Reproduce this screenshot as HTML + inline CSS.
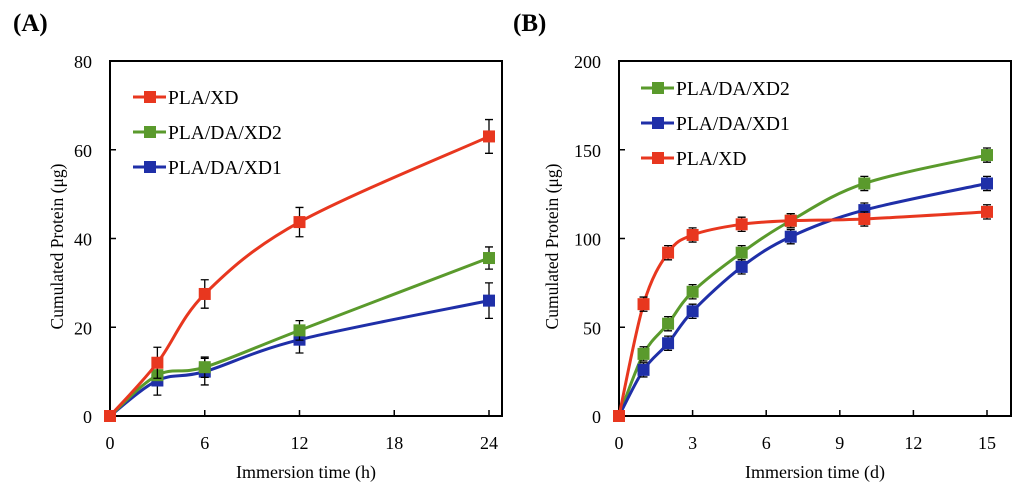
<!DOCTYPE html>
<html><head><meta charset="utf-8"><style>
body{margin:0;background:#fff;}
svg{display:block;font-family:"Liberation Serif",serif;}
</style></head><body>
<svg id="s" width="1024" height="489" viewBox="0 0 1024 489"></svg>
<script>
const timesA=[0,3,6,12,24];
const redA=[0,12,27.5,43.7,63];
const redAerr=[0,3.5,3.2,3.3,3.8];
const greenA=[0,9.2,11,19.3,35.6];
const greenAerr=[0,0,2.3,2.2,2.5];
const blueA=[0,8,10,17.2,26];
const blueAerr=[0,3.3,3,3,4];
const ticksAx=[0,6,12,18,24];
const ticksAy=[0,20,40,60,80];
const timesB=[0,1,2,3,5,7,10,15];
const redB=[0,63,92,102,108,110,111,115];
const greenB=[0,35,52,70,92,110,131,147];
const blueB=[0,26,41,59,84,101,116,131];
const errB=[0,4,4,4,4,4,4,4];
const ticksBx=[0,3,6,9,12,15];
const ticksBy=[0,50,100,150,200];
const NS="http://www.w3.org/2000/svg";
const svg=document.getElementById('s');
function el(t,a,p){const e=document.createElementNS(NS,t);for(const k in a)e.setAttribute(k,a[k]);(p||svg).appendChild(e);return e;}
const RED="#e8371f",GREEN="#5a9a2c",BLUE="#1f2fa8";
function path(pts){let d=`M${pts[0][0]},${pts[0][1]}`;const t=1/3;for(let i=0;i<pts.length-1;i++){const p0=pts[Math.max(0,i-1)],p1=pts[i],p2=pts[i+1],p3=pts[Math.min(pts.length-1,i+2)];d+=` C${p1[0]+(p2[0]-p0[0])*t/2},${p1[1]+(p2[1]-p0[1])*t/2} ${p2[0]-(p3[0]-p1[0])*t/2},${p2[1]-(p3[1]-p1[1])*t/2} ${p2[0]},${p2[1]}`;}return d;}
function panel(o){
  const g=el('g',{});
  
  
  const X=v=>o.x0+(o.x1-o.x0)*v/o.xmax, Y=v=>o.by-(o.by-o.ty)*v/o.ymax;
  const t=el('text',{x:o.lx,y:31,'font-size':25,'font-weight':'bold'},g);t.textContent=o.label;
  
  const f=el('rect',{x:o.x0,y:o.ty,width:o.right-o.x0,height:o.by-o.ty,fill:'none',stroke:'#000','stroke-width':2},g);
  
  o.tx.forEach(v=>{el('line',{x1:X(v),x2:X(v),y1:o.by,y2:o.by-6,stroke:'#000','stroke-width':1.5},g);
    const tt=el('text',{x:X(v),y:o.by+33,'font-size':18,'text-anchor':'middle'},g);tt.textContent=v;
    });
  o.ty2.forEach(v=>{el('line',{x1:o.x0,x2:o.x0+6,y1:Y(v),y2:Y(v),stroke:'#000','stroke-width':1.5},g);
    const tt=el('text',{x:o.x0-18,y:Y(v)+7,'font-size':18,'text-anchor':'end'},g);tt.textContent=v;
    });
  const xt=el('text',{x:(o.x0+o.right)/2,y:478,'font-size':18,'text-anchor':'middle'},g);xt.textContent=o.xtitle;
  
  const yt=el('text',{x:0,y:0,'font-size':17.5,'text-anchor':'middle',transform:`translate(${o.ytx},${(o.ty+o.by)/2+8}) rotate(-90)`},g);yt.textContent='Cumulated Protein (μg)';
  
  o.series.forEach(s=>{
    const pts=o.times.map((tv,i)=>[X(tv),Y(s.v[i])]);
    const p=el('path',{d:path(pts),fill:'none',stroke:s.c,'stroke-width':3},g);
    
    o.times.forEach((tv,i)=>{const e=s.e[i];if(e>0){const x=X(tv);
      el('path',{d:`M${x},${Y(s.v[i]+e)}V${Y(s.v[i]-e)}M${x-4},${Y(s.v[i]+e)}h8M${x-4},${Y(s.v[i]-e)}h8`,stroke:'#000','stroke-width':1.3,fill:'none'},g);}
      const m=el('rect',{x:X(tv)-6,y:Y(s.v[i])-6,width:12,height:12,fill:s.c},g);
      });
  });
  o.legend.forEach((s,i)=>{const y=o.ly+i*o.lg;
    const lg=el('g',{},g);
    el('line',{x1:o.lx0,x2:o.lx0+33,y1:y,y2:y,stroke:s.c,'stroke-width':3},lg);
    el('rect',{x:o.lx0+11,y:y-6,width:12,height:12,fill:s.c},lg);
    const tt=el('text',{x:o.lx0+35,y:y+7,'font-size':19.5},lg);tt.textContent=s.id;});
}
const sA={red:{id:'PLA/XD',c:RED,v:redA,e:redAerr},green:{id:'PLA/DA/XD2',c:GREEN,v:greenA,e:greenAerr},blue:{id:'PLA/DA/XD1',c:BLUE,v:blueA,e:blueAerr}};
panel({name:'chart-a',label:'(A)',lx:13,x0:110,x1:489,right:502,ty:61,by:416,xmax:24,ymax:80,tx:ticksAx,ty2:ticksAy,xtitle:'Immersion time (h)',times:timesA,ytx:63,
  series:[sA.blue,sA.green,sA.red],legend:[sA.red,sA.green,sA.blue],lx0:133,ly:97,lg:35});
const sB={red:{id:'PLA/XD',c:RED,v:redB,e:errB},green:{id:'PLA/DA/XD2',c:GREEN,v:greenB,e:errB},blue:{id:'PLA/DA/XD1',c:BLUE,v:blueB,e:errB}};
panel({name:'chart-b',label:'(B)',lx:513,x0:619,x1:987,right:1011,ty:61,by:416,xmax:15,ymax:200,tx:ticksBx,ty2:ticksBy,xtitle:'Immersion time (d)',times:timesB,ytx:558,
  series:[sB.green,sB.blue,sB.red],legend:[sB.green,sB.blue,sB.red],lx0:641,ly:88,lg:35});
</script>
</body></html>
